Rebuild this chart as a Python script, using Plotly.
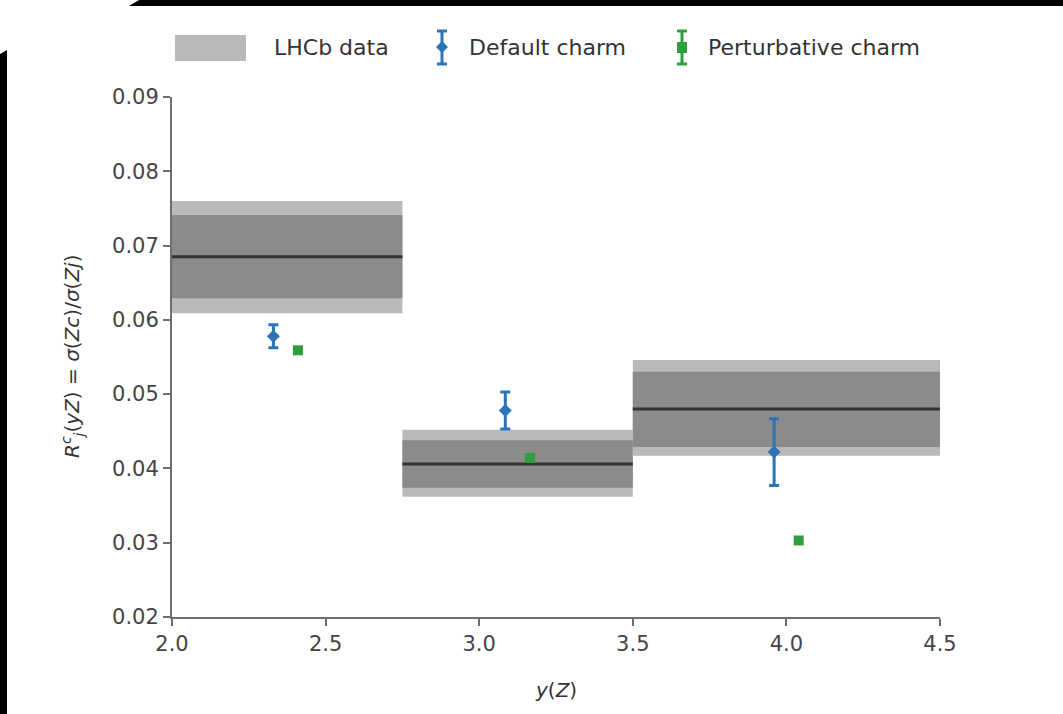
import plotly.graph_objects as go

# ---------------- data ----------------
bin_lo = [2.0, 2.75, 3.5]
bin_hi = [2.75, 3.5, 4.5]
lhcb_central = [0.0685, 0.0406, 0.0480]
lhcb_inner_lo = [0.0629, 0.0374, 0.0429]
lhcb_inner_hi = [0.0741, 0.0438, 0.0530]
lhcb_outer_lo = [0.0609, 0.0362, 0.0417]
lhcb_outer_hi = [0.0760, 0.0452, 0.0546]

default_x = [2.33, 3.085, 3.96]
default_y = [0.0578, 0.0478, 0.0422]
default_err = [0.00155, 0.0025, 0.0045]

pert_x = [2.41, 3.165, 4.04]
pert_y = [0.0559, 0.0414, 0.0303]
pert_err = [0.0003, 0.0003, 0.0002]

x_ticks = [2.0, 2.5, 3.0, 3.5, 4.0, 4.5]
x_ticklabels = ["2.0", "2.5", "3.0", "3.5", "4.0", "4.5"]
y_ticks = [0.02, 0.03, 0.04, 0.05, 0.06, 0.07, 0.08, 0.09]
y_ticklabels = ["0.02", "0.03", "0.04", "0.05", "0.06", "0.07", "0.08", "0.09"]

LIGHT = "#b9b9b9"
DARK = "#8b8b8b"
LINE = "#333333"
BLUE = "#2b74b6"
GREEN = "#2f9e3c"
TXT = "#333333"
FONT = "DejaVu Sans"

W, H = 1063, 714
ML, MR, MT, MB = 172, 123, 97, 97
PW, PH = W - ML - MR, H - MT - MB


def px(x):
    return (x - ML) / PW


def py(y):
    return (H - MB - y) / PH


fig = go.Figure()


def rect(x0, x1, y0, y1, color):
    fig.add_trace(go.Scatter(
        x=[x0, x1, x1, x0, x0], y=[y0, y0, y1, y1, y0],
        mode="lines", fill="toself", fillcolor=color,
        line=dict(width=0, color=color), hoverinfo="skip", showlegend=False))


for i in range(len(bin_lo)):
    rect(bin_lo[i], bin_hi[i], lhcb_outer_lo[i], lhcb_outer_hi[i], LIGHT)
    rect(bin_lo[i], bin_hi[i], lhcb_inner_lo[i], lhcb_inner_hi[i], DARK)
    fig.add_trace(go.Scatter(
        x=[bin_lo[i], bin_hi[i]], y=[lhcb_central[i], lhcb_central[i]],
        mode="lines", line=dict(color=LINE, width=3),
        hoverinfo="skip", showlegend=False))

fig.add_trace(go.Scatter(
    x=default_x, y=default_y, mode="markers",
    marker=dict(symbol="diamond", size=10, color=BLUE),
    error_y=dict(type="data", array=default_err, color=BLUE, thickness=3, width=5),
    name="Default charm", showlegend=False))

fig.add_trace(go.Scatter(
    x=pert_x, y=pert_y, mode="markers",
    marker=dict(symbol="square", size=10, color=GREEN),
    error_y=dict(type="data", array=pert_err, color=GREEN, thickness=3, width=4),
    name="Perturbative charm", showlegend=False))

shapes = []
annotations = []

# ---------- manual legend ----------
shapes.append(dict(type="rect", xref="paper", yref="paper",
                   x0=px(175), x1=px(246), y0=py(61), y1=py(35),
                   fillcolor=LIGHT, line=dict(width=0)))
annotations.append(dict(text="LHCb data", x=px(272), y=py(48), xref="paper", yref="paper",
                        xanchor="left", yanchor="middle", showarrow=False,
                        font=dict(family=FONT, size=22, color=TXT)))


def err_icon(cx, color, kind):
    shapes.append(dict(type="line", xref="paper", yref="paper",
                       x0=px(cx), x1=px(cx), y0=py(64), y1=py(31),
                       line=dict(color=color, width=3)))
    for yy in (31, 64):
        shapes.append(dict(type="line", xref="paper", yref="paper",
                           x0=px(cx - 5), x1=px(cx + 5), y0=py(yy), y1=py(yy),
                           line=dict(color=color, width=3)))
    if kind == "diamond":
        path = "M {} {} L {} {} L {} {} L {} {} Z".format(
            px(cx), py(41), px(cx + 6), py(47), px(cx), py(53), px(cx - 6), py(47))
        shapes.append(dict(type="path", xref="paper", yref="paper", path=path,
                           fillcolor=color, line=dict(width=0)))
    else:
        shapes.append(dict(type="rect", xref="paper", yref="paper",
                           x0=px(cx - 5), x1=px(cx + 5), y0=py(53), y1=py(42),
                           fillcolor=color, line=dict(width=0)))


err_icon(442, BLUE, "diamond")
annotations.append(dict(text="Default charm", x=px(467), y=py(48), xref="paper", yref="paper",
                        xanchor="left", yanchor="middle", showarrow=False,
                        font=dict(family=FONT, size=22, color=TXT)))
err_icon(682, GREEN, "square")
annotations.append(dict(text="Perturbative charm", x=px(706), y=py(48), xref="paper", yref="paper",
                        xanchor="left", yanchor="middle", showarrow=False,
                        font=dict(family=FONT, size=22, color=TXT)))

# ---------- axis titles ----------
annotations.append(dict(
    text="<i>R</i><sup><i>c</i></sup><sub><i>j</i></sub>(<i>yZ</i>) = <i>σ</i>(<i>Zc</i>)/<i>σ</i>(<i>Zj</i>)",
    x=px(72), y=0.5, xref="paper", yref="paper", textangle=-90,
    xanchor="center", yanchor="middle", showarrow=False,
    font=dict(family=FONT, size=20, color=TXT)))
annotations.append(dict(
    text="<i>y</i>(<i>Z</i>)", x=0.5, y=py(690), xref="paper", yref="paper",
    xanchor="center", yanchor="middle", showarrow=False,
    font=dict(family=FONT, size=20, color=TXT)))

# ---------- black photo-crop borders ----------
top = "M {} {} L {} {} L {} {} L {} {} Z".format(
    px(139), py(0), px(W), py(0), px(W), py(6), px(129), py(6))
left = "M {} {} L {} {} L {} {} L {} {} Z".format(
    px(0), py(54), px(7), py(50), px(7), py(H), px(0), py(H))
for p in (top, left):
    shapes.append(dict(type="path", xref="paper", yref="paper", path=p,
                       fillcolor="black", line=dict(width=0), layer="above"))

axis_common = dict(showgrid=False, zeroline=False, showline=True,
                   linecolor="#6f6f6f", linewidth=2, ticks="outside",
                   ticklen=7, tickwidth=2, tickcolor="#6f6f6f",
                   tickfont=dict(family=FONT, size=21, color="#444444"))

fig.update_layout(
    width=W, height=H,
    margin=dict(l=ML, r=MR, t=MT, b=MB, pad=0),
    paper_bgcolor="white", plot_bgcolor="white",
    showlegend=False,
    xaxis=dict(range=[2.0, 4.5], tickvals=x_ticks, ticktext=x_ticklabels, **axis_common),
    yaxis=dict(range=[0.02, 0.09], tickvals=y_ticks, ticktext=y_ticklabels, **axis_common),
    shapes=shapes, annotations=annotations,
)

fig.write_html("out.html")
